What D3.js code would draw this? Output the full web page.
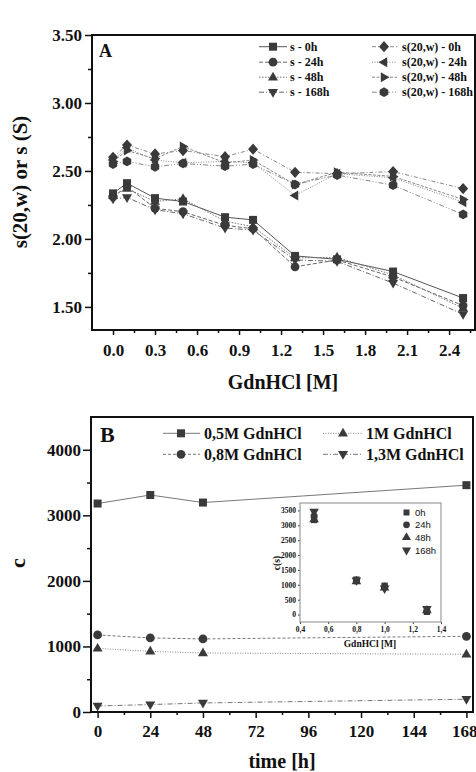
<!DOCTYPE html>
<html><head><meta charset="utf-8">
<script src="https://cdn.jsdelivr.net/npm/d3@7/dist/d3.min.js"></script>
<style>
html,body{margin:0;padding:0;background:#fff;}
svg text{font-family:"Liberation Serif","Times New Roman",serif;font-weight:bold;fill:#111;}
</style></head>
<body><svg id="c" width="476" height="772"></svg>
<script>
// ---------- Panel A data ----------
const gdnX = [0, 0.1, 0.3, 0.5, 0.8, 1.0, 1.3, 1.6, 2.0, 2.5];
const s0h   = [2.335, 2.41, 2.30, 2.275, 2.16, 2.14, 1.875, 1.85, 1.76, 1.565];
const s24h  = [2.31, 2.385, 2.225, 2.20, 2.10, 2.075, 1.795, 1.845, 1.72, 1.51];
const s48h  = [2.32, 2.37, 2.275, 2.295, 2.13, 2.09, 1.86, 1.865, 1.735, 1.49];
const s168h = [2.295, 2.305, 2.215, 2.185, 2.08, 2.065, 1.845, 1.835, 1.675, 1.445];
const w0h   = [2.60, 2.69, 2.625, 2.65, 2.605, 2.66, 2.49, 2.48, 2.495, 2.37];
const w24h  = [2.58, 2.67, 2.58, 2.56, 2.57, 2.56, 2.32, 2.48, 2.45, 2.27];
const w48h  = [2.57, 2.65, 2.59, 2.68, 2.56, 2.58, 2.40, 2.49, 2.46, 2.29];
const w168h = [2.55, 2.57, 2.53, 2.555, 2.535, 2.55, 2.40, 2.47, 2.395, 2.18];
const seriesA = ["s - 0h","s - 24h","s - 48h","s - 168h","s(20,w) - 0h","s(20,w) - 24h","s(20,w) - 48h","s(20,w) - 168h"];
const yTicksA = [1.5, 2.0, 2.5, 3.0, 3.5];
const yMinorA = [1.75, 2.25, 2.75, 3.25];
const xTicksA = [0, 0.3, 0.6, 0.9, 1.2, 1.5, 1.8, 2.1, 2.4];
const xMinorA = [0.15, 0.45, 0.75, 1.05, 1.35, 1.65, 1.95, 2.25, 2.55];

// ---------- Panel B data ----------
const hours = [0, 24, 48, 168];
const c05 = [3180, 3310, 3195, 3460];
const c08 = [1175, 1130, 1115, 1155];
const c10 = [970, 925, 900, 880];
const c13 = [92, 113, 138, 195];
const seriesB = ["0,5M GdnHCl","0,8M GdnHCl","1M GdnHCl","1,3M GdnHCl"];
const yTicksB = [0, 1000, 2000, 3000, 4000];
const yMinorB = [500, 1500, 2500, 3500];
const xTicksB = [0, 24, 48, 72, 96, 120, 144, 168];
const xMinorB = [12, 36, 60, 84, 108, 132, 156];

// ---------- Inset data ----------
const concI = [0.5, 0.8, 1.0, 1.3];
const timesI = ["0h","24h","48h","168h"];
const xTicksI = [0.4, 0.6, 0.8, 1.0, 1.2, 1.4];
const yTicksI = [0, 500, 1000, 1500, 2000, 2500, 3000, 3500];

// ---------- helpers ----------
function markerPath(t){
  switch(t){
    case "square": return "M-4,-4H4V4H-4Z";
    case "circle": return d3.arc()({innerRadius:0,outerRadius:4.4,startAngle:0,endAngle:2*Math.PI});
    case "up": return "M0,-5.5L5,3.2L-5,3.2Z";
    case "down": return "M0,5.5L5,-3.2L-5,-3.2Z";
    case "left": return "M-5.5,0L3.2,-5L3.2,5Z";
    case "right": return "M5.5,0L-3.2,-5L-3.2,5Z";
    case "diamond": return "M0,-5.6L5,0L0,5.6L-5,0Z";
    case "hex": {
      const pts=[]; for(let k=0;k<6;k++){const a=Math.PI/6+k*Math.PI/3; pts.push([4.9*Math.cos(a),4.9*Math.sin(a)]);}
      return "M"+pts.map(p=>p.join(",")).join("L")+"Z";
    }
  }
}

const svg = d3.select("#c");
const mcol = "#3a3a3a";

function styleAxis(g, fs){
  g.select(".domain").remove();
  g.selectAll(".tick line").attr("stroke","#111").attr("stroke-width",1.5);
  g.selectAll(".tick text").style("font-size",fs+"px").style("font-family",'"Liberation Serif","Times New Roman",serif').style("font-weight","bold").attr("fill","#111");
}

// ================= Panel A =================
const xA = d3.scaleLinear().domain([-0.15, 2.585]).range([92, 475]);
const yA = d3.scaleLinear().domain([1.33, 3.5]).range([330, 35]);
const gA = svg.append("g");

const dataA = [s0h, s24h, s48h, s168h, w0h, w24h, w48h, w168h];
const markA = ["square","circle","up","down","diamond","left","right","hex"];
const dashA = [null, "4,2", "1.5,1.5", "5,2,1,2", "4,2,1,2", "1,1.5", "3,1.5", "5,2,1,2,1,2"];
const lcolA = ["#555","#666","#777","#666","#888","#888","#888","#888"];
const lineA = d3.line().x((d,i)=>xA(gdnX[i])).y(d=>yA(d));

dataA.forEach((arr,k)=>{
  gA.append("path").attr("d", lineA(arr)).attr("fill","none").attr("stroke",lcolA[k])
    .attr("stroke-width",1).attr("stroke-dasharray",dashA[k]);
});
dataA.forEach((arr,k)=>{
  gA.selectAll(null).data(arr).enter().append("path")
    .attr("d", markerPath(markA[k]))
    .attr("transform",(d,i)=>`translate(${xA(gdnX[i])},${yA(d)})`)
    .attr("fill",mcol);
});

// axes A
let ax = gA.append("g").attr("transform","translate(92,0)")
  .call(d3.axisLeft(yA).tickValues(yTicksA).tickFormat(d3.format(".2f")).tickSize(7).tickPadding(3));
styleAxis(ax,17);
ax = gA.append("g").attr("transform","translate(92,0)")
  .call(d3.axisLeft(yA).tickValues(yMinorA).tickFormat("").tickSize(4));
styleAxis(ax,17);
ax = gA.append("g").attr("transform","translate(0,330)")
  .call(d3.axisBottom(xA).tickValues(xTicksA).tickFormat(d3.format(".1f")).tickSize(5).tickPadding(9));
styleAxis(ax,17);
ax = gA.append("g").attr("transform","translate(0,330)")
  .call(d3.axisBottom(xA).tickValues(xMinorA).tickFormat("").tickSize(3));
styleAxis(ax,17);
gA.append("rect").attr("x",92).attr("y",35).attr("width",383).attr("height",295)
  .attr("fill","none").attr("stroke","#111").attr("stroke-width",2);

gA.append("text").attr("x",99).attr("y",57).style("font-size","18px").text("A");
gA.append("text").attr("x",283).attr("y",389).attr("text-anchor","middle").style("font-size","20px").text("GdnHCl [M]");
gA.append("text").attr("transform","translate(27,182) rotate(-90)").attr("text-anchor","middle").style("font-size","21px").text("s(20,w) or s (S)");

// legend A
const legRowsA = [46.7, 62.2, 77.2, 92.2];
seriesA.forEach((name,k)=>{
  const col = Math.floor(k/4), row = k%4;
  const lx0 = col===0 ? 259 : 372, lx1 = col===0 ? 287 : 397;
  const mx = col===0 ? 273 : 384;
  const tx = col===0 ? 290 : 402;
  const y = legRowsA[row];
  gA.append("line").attr("x1",lx0).attr("x2",lx1).attr("y1",y).attr("y2",y)
    .attr("stroke",lcolA[k]).attr("stroke-width",1).attr("stroke-dasharray",dashA[k]);
  gA.append("path").attr("d",markerPath(markA[k])).attr("transform",`translate(${mx},${y})`).attr("fill",mcol);
  gA.append("text").attr("x",tx).attr("y",y+4).style("font-size","12px").text(name);
});

// ================= Panel B =================
const xB = d3.scaleLinear().domain([-3, 171]).range([91, 473]);
const yB = d3.scaleLinear().domain([0, 4500]).range([712, 417]);
const gB = svg.append("g");
const dataB = [c05, c08, c10, c13];
const markB = ["square","circle","up","down"];
const dashB = [null, "3,2", "1,1.5", "5,2,1,2"];
const lcolB = ["#777","#777","#888","#777"];
const lineB = d3.line().x((d,i)=>xB(hours[i])).y(d=>yB(d));
dataB.forEach((arr,k)=>{
  gB.append("path").attr("d",lineB(arr)).attr("fill","none").attr("stroke",lcolB[k])
    .attr("stroke-width",1).attr("stroke-dasharray",dashB[k]);
  gB.selectAll(null).data(arr).enter().append("path")
    .attr("d",markerPath(markB[k]))
    .attr("transform",(d,i)=>`translate(${xB(hours[i])},${yB(d)})`)
    .attr("fill",mcol);
});

ax = gB.append("g").attr("transform","translate(91,0)")
  .call(d3.axisLeft(yB).tickValues(yTicksB).tickFormat(d3.format("d")).tickSize(8).tickPadding(2));
styleAxis(ax,17);
ax = gB.append("g").attr("transform","translate(91,0)")
  .call(d3.axisLeft(yB).tickValues(yMinorB).tickFormat("").tickSize(4));
styleAxis(ax,17);
ax = gB.append("g").attr("transform","translate(0,712)")
  .call(d3.axisBottom(xB).tickValues(xTicksB).tickFormat(d3.format("d")).tickSize(6).tickPadding(7));
styleAxis(ax,17);
ax.selectAll(".tick text").filter(d=>d===168).attr("text-anchor","end").attr("x",10.5);
ax = gB.append("g").attr("transform","translate(0,712)")
  .call(d3.axisBottom(xB).tickValues(xMinorB).tickFormat("").tickSize(3));
styleAxis(ax,17);
gB.append("rect").attr("x",91).attr("y",417).attr("width",382).attr("height",295)
  .attr("fill","none").attr("stroke","#111").attr("stroke-width",2);

gB.append("text").attr("x",100).attr("y",442).style("font-size","22px").text("B");
gB.append("text").attr("x",282).attr("y",768).attr("text-anchor","middle").style("font-size","20px").text("time [h]");
gB.append("text").attr("transform","translate(25,563) rotate(-90)").attr("text-anchor","middle").style("font-size","22px").text("c");

// legend B
const legRowsB = [433.3, 454.3];
seriesB.forEach((name,k)=>{
  const col = k===0||k===1 ? 0 : 1, row = k===0||k===2 ? 0 : 1;
  const lx0 = col===0 ? 163 : 323, lx1 = col===0 ? 200 : 363;
  const mx = col===0 ? 181 : 343;
  const tx = col===0 ? 204 : 366;
  const y = legRowsB[row];
  gB.append("line").attr("x1",lx0).attr("x2",lx1).attr("y1",y).attr("y2",y)
    .attr("stroke",lcolB[k]).attr("stroke-width",1).attr("stroke-dasharray",dashB[k]);
  gB.append("path").attr("d",markerPath(markB[k])).attr("transform",`translate(${mx},${y})`).attr("fill",mcol);
  gB.append("text").attr("x",tx).attr("y",y+5.5).style("font-size","16px").text(name);
});

// ================= Inset =================
const xI = d3.scaleLinear().domain([0.4, 1.4]).range([300, 441]);
const yI = d3.scaleLinear().domain([-250, 3750]).range([622, 503]);
const gI = svg.append("g");
gI.append("rect").attr("x",300).attr("y",503).attr("width",141).attr("height",119).attr("fill","#fff");
const symI = [d3.symbolSquare,d3.symbolCircle,d3.symbolTriangle,d3.symbolTriangle];
timesI.forEach((t,ti)=>{
  const vals = dataB.map(arr=>arr[ti]);
  gI.selectAll(null).data(vals).enter().append("path")
    .attr("d",d3.symbol().type(symI[ti]).size(40))
    .attr("transform",(d,i)=>`translate(${xI(concI[i])},${yI(d)})${ti===3?" rotate(180)":""}`)
    .attr("fill",mcol);
});
ax = gI.append("g").attr("transform","translate(300,0)")
  .call(d3.axisLeft(yI).tickValues(yTicksI).tickFormat(d3.format("d")).tickSize(2).tickPadding(2));
styleAxis(ax,7.5);
ax.selectAll(".tick line").attr("stroke-width",0.8);
ax = gI.append("g").attr("transform","translate(0,622)")
  .call(d3.axisBottom(xI).tickValues(xTicksI).tickFormat(d=>d3.format(".1f")(d).replace(".",",")).tickSize(2).tickPadding(3));
styleAxis(ax,7.5);
ax.selectAll(".tick line").attr("stroke-width",0.8);
gI.append("rect").attr("x",300).attr("y",503).attr("width",141).attr("height",119)
  .attr("fill","none").attr("stroke","#888").attr("stroke-width",1);
gI.append("text").attr("x",370).attr("y",647).attr("text-anchor","middle").style("font-size","9.5px").text("GdnHCl [M]");
gI.append("text").attr("transform","translate(280,563) rotate(-90)").attr("text-anchor","middle").style("font-size","9.5px").text("c(s)");
const legRowsI = [512.5, 524.8, 537.4, 550.2];
timesI.forEach((t,ti)=>{
  const y = legRowsI[ti];
  gI.append("path")
    .attr("d",d3.symbol().type(symI[ti]).size(36))
    .attr("transform",`translate(406.5,${y})${ti===3?" rotate(180)":""}`).attr("fill",mcol);
  gI.append("text").attr("x",415).attr("y",y+3.5)
    .style("font-family",'"Liberation Sans",Arial,sans-serif').style("font-weight","normal")
    .style("font-size","9.5px").attr("fill","#333").text(t);
});
</script></body></html>
